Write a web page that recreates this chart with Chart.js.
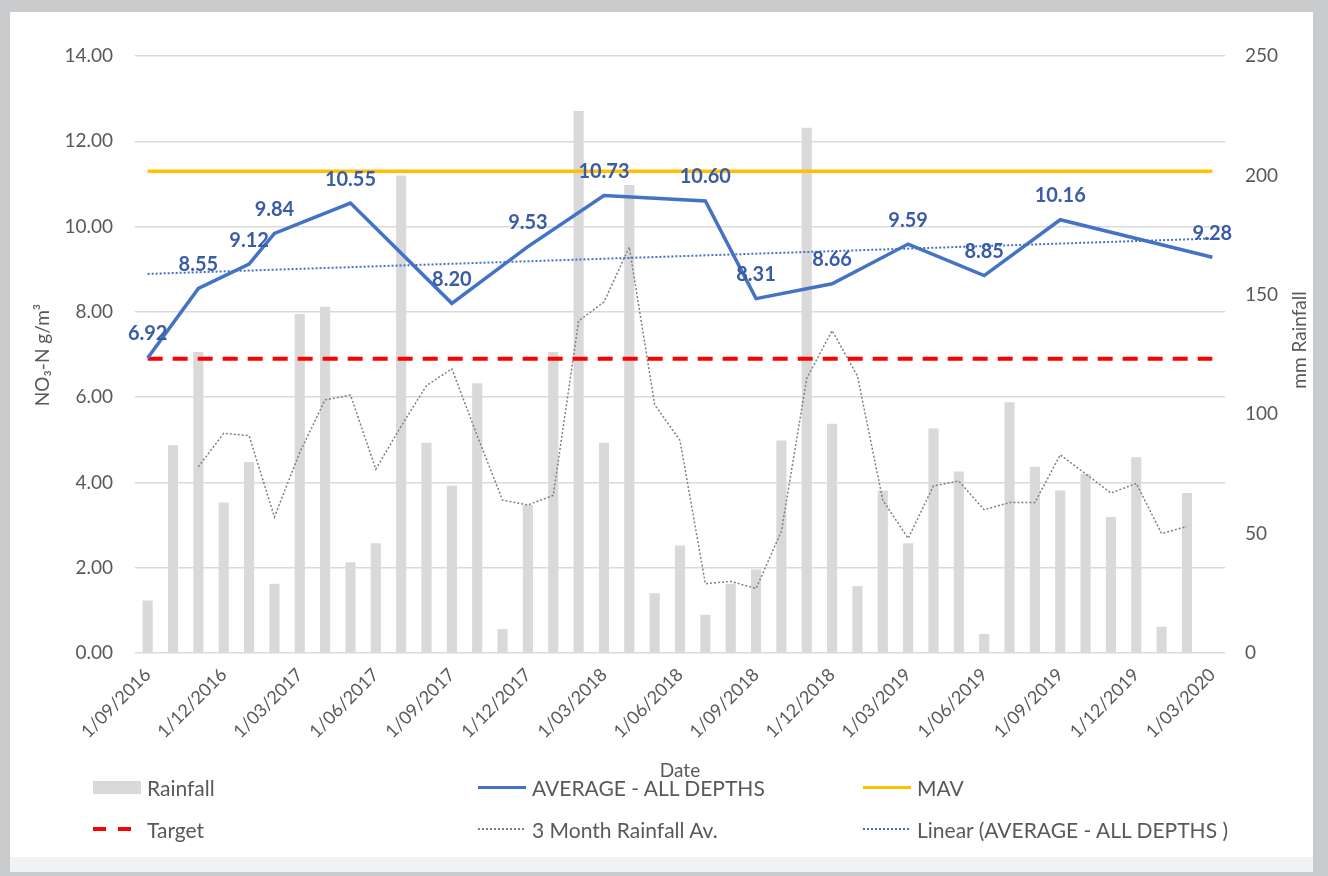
<!DOCTYPE html>
<html>
<head>
<meta charset="utf-8">
<script src="https://cdn.jsdelivr.net/npm/chart.js@4.4.0/dist/chart.umd.min.js"></script>
<style>
  body { margin: 0; background: #c9cacc; font-family: Lato, "Open Sans", sans-serif; }
  #frame { position: absolute; left: 10px; top: 12px; width: 1303px; height: 860px; background: #f1f2f3; }
  #card { position: absolute; left: 0; top: 0; width: 1303px; height: 845px; background: #fff; }
  #chart { position: absolute; left: 0; top: 0; }
  #legend { position: absolute; left: 83px; top: 754px; display: grid;
            grid-template-columns: 385px 385px 420px; grid-auto-rows: 42px; }
  .item { display: flex; align-items: center; color: #595959; font-size: 21px; white-space: nowrap; }
  .sw { width: 48px; height: 14px; margin-right: 6px; display: flex; align-items: center; }
  .sw span { display: block; width: 100%; }
</style>
</head>
<body>
<div id="frame">
  <div id="card">
    <canvas id="chart" width="1303" height="790"></canvas>
    <div id="legend"></div>
  </div>
</div>
<script>
// monthly categories, Sep 2016 .. Mar 2020
const months = ['1/09/2016','1/10/2016','1/11/2016','1/12/2016','1/01/2017','1/02/2017','1/03/2017','1/04/2017',
  '1/05/2017','1/06/2017','1/07/2017','1/08/2017','1/09/2017','1/10/2017','1/11/2017','1/12/2017',
  '1/01/2018','1/02/2018','1/03/2018','1/04/2018','1/05/2018','1/06/2018','1/07/2018','1/08/2018',
  '1/09/2018','1/10/2018','1/11/2018','1/12/2018','1/01/2019','1/02/2019','1/03/2019','1/04/2019',
  '1/05/2019','1/06/2019','1/07/2019','1/08/2019','1/09/2019','1/10/2019','1/11/2019','1/12/2019',
  '1/01/2020','1/02/2020','1/03/2020'];

// mm rainfall per month
const rainfall = [22, 87, 126, 63, 80, 29, 142, 145, 38, 46, 200, 88, 70, 113, 10, 62, 126, 227, 88, 196,
  25, 45, 16, 29, 35, 89, 220, 96, 28, 68, 46, 94, 76, 8, 105, 78, 68, 75, 57, 82, 11, 67, null];

const rain3m = [null, null, 78, 92, 91, 57, 84, 106, 108, 77, 95, 112, 119, 91, 64, 62, 66, 139, 147, 170,
  104, 89, 29, 30, 27, 51, 115, 135, 116, 64, 48, 70, 72, 60, 63, 63, 83, 75, 67, 71, 50, 53, null];

// NO3-N sampling dates and averages
const avgDates = ['1/09/2016','1/11/2016','1/01/2017','1/02/2017','1/05/2017','1/09/2017','1/12/2017',
  '1/03/2018','1/07/2018','1/09/2018','1/12/2018','1/03/2019','1/06/2019','1/09/2019','1/03/2020'];
const avgValues = [6.92, 8.55, 9.12, 9.84, 10.55, 8.20, 9.53, 10.73, 10.60, 8.31, 8.66, 9.59, 8.85, 10.16, 9.28];

const mav = 11.3;
const target = 6.9;
const trendStart = 8.89;
const trendEnd = 9.72;

const leftTicks = [0, 2, 4, 6, 8, 10, 12, 14];
const rightTicks = [0, 50, 100, 150, 200, 250];

const first = months[0], last = months[months.length - 1];
const grey = '#595959';
const fontFam = 'Lato, "Open Sans", sans-serif';

const avgLabels = {
    id: 'avgLabels',
    afterDatasetsDraw(chart) {
        const ctx = chart.ctx;
        const meta = chart.getDatasetMeta(1);
        ctx.save();
        ctx.font = 'bold 20px ' + fontFam;
        ctx.fillStyle = '#3a5ca6';
        ctx.textAlign = 'center';
        ctx.textBaseline = 'middle';
        meta.data.forEach((pt, i) => {
            ctx.fillText(avgValues[i].toFixed(2), pt.x, pt.y - 24);
        });
        ctx.restore();
    }
};

function drawTitle(ctx, text, x, y, rot) {
    ctx.save();
    ctx.font = '19px ' + fontFam;
    ctx.fillStyle = grey;
    ctx.textAlign = 'center';
    ctx.textBaseline = 'middle';
    ctx.translate(x, y);
    if (rot) ctx.rotate(rot);
    ctx.fillText(text, 0, 0);
    ctx.restore();
}

const axisTitles = {
    id: 'axisTitles',
    afterDraw(chart) {
        const ctx = chart.ctx, a = chart.chartArea;
        drawTitle(ctx, 'NO₃-N g/m³', 33, 343, -Math.PI / 2);
        drawTitle(ctx, 'mm Rainfall', 1290, 328, -Math.PI / 2);
        drawTitle(ctx, 'Date', (a.left + a.right) / 2, 759, 0);
    }
};

const chart = new Chart(document.getElementById('chart'), {
    type: 'bar',
    data: {
        labels: months,
        datasets: [{
            label: 'Rainfall', type: 'bar', data: rainfall, yAxisID: 'y2',
            backgroundColor: '#d9d9d9', categoryPercentage: 1, barPercentage: 0.4, order: 10,
            sw: 'box'
        }, {
            label: 'AVERAGE - ALL DEPTHS', type: 'line',
            data: avgDates.map((d, i) => ({ x: d, y: avgValues[i] })), yAxisID: 'y',
            borderColor: '#4472c4', borderWidth: 3.5, pointRadius: 0, tension: 0, order: 0,
            sw: 'line'
        }, {
            label: 'MAV', type: 'line', data: [{ x: first, y: mav }, { x: last, y: mav }], yAxisID: 'y',
            borderColor: '#ffc000', borderWidth: 3.5, pointRadius: 0, order: 2,
            sw: 'line'
        }, {
            label: 'Target', type: 'line', data: [{ x: first, y: target }, { x: last, y: target }], yAxisID: 'y',
            borderColor: '#ff0000', borderWidth: 4, borderDash: [15, 10], pointRadius: 0, order: 3,
            sw: 'dash'
        }, {
            label: '3 Month Rainfall Av.', type: 'line', data: rain3m, yAxisID: 'y2',
            borderColor: '#7f7f7f', borderWidth: 1.5, borderDash: [2, 2], pointRadius: 0, order: 5,
            sw: 'dot'
        }, {
            label: 'Linear (AVERAGE - ALL DEPTHS )', type: 'line',
            data: [{ x: first, y: trendStart }, { x: last, y: trendEnd }], yAxisID: 'y',
            borderColor: '#4472c4', borderWidth: 2, borderDash: [2, 2], pointRadius: 0, order: 1,
            sw: 'dot'
        }]
    },
    options: {
        responsive: false,
        animation: false,
        devicePixelRatio: 1,
        layout: { padding: { top: 44, left: 0, right: 0, bottom: 0 } },
        plugins: { legend: { display: false }, tooltip: { enabled: false } },
        scales: {
            x: {
                offset: true,
                grid: { display: false, drawTicks: false },
                border: { display: false },
                ticks: {
                    autoSkip: false, minRotation: 45, maxRotation: 45, padding: 11,
                    color: grey, font: { family: fontFam, size: 18 },
                    callback: function(v, i) { return i % 3 === 0 ? this.getLabelForValue(v) : ''; }
                },
                afterFit: s => { s.height = 149; }
            },
            y: {
                position: 'left', min: 0, max: 14,
                grid: { color: '#dadada', lineWidth: 1.5, drawTicks: false },
                border: { display: false },
                afterBuildTicks: s => { s.ticks = leftTicks.map(v => ({ value: v })); },
                ticks: { padding: 22, color: grey, font: { family: fontFam, size: 19 }, callback: v => v.toFixed(2) },
                afterFit: s => { s.width = 125; }
            },
            y2: {
                position: 'right', min: 0, max: 250,
                grid: { display: false, drawTicks: false },
                border: { display: false },
                afterBuildTicks: s => { s.ticks = rightTicks.map(v => ({ value: v })); },
                ticks: { padding: 20, color: grey, font: { family: fontFam, size: 19 } },
                afterFit: s => { s.width = 88; }
            }
        }
    },
    plugins: [avgLabels, axisTitles]
});

// legend laid out as 3 columns like the Excel original
function swatchHtml(ds) {
    let st = '';
    if (ds.sw === 'box') st = `height:13px;background:${ds.backgroundColor}`;
    else if (ds.sw === 'line') st = `height:3px;background:${ds.borderColor}`;
    else if (ds.sw === 'dash') st = `height:4px;background:repeating-linear-gradient(to right, ${ds.borderColor} 0 13px, transparent 13px 25px)`;
    else st = `height:2px;background:repeating-linear-gradient(to right, ${ds.borderColor} 0 2px, transparent 2px 4px)`;
    return `<div class="sw"><span style="${st}"></span></div>`;
}
let html = '';
chart.data.datasets.forEach(ds => {
    html += `<div class="item">${swatchHtml(ds)}${ds.label}</div>`;
});
document.getElementById('legend').innerHTML = html;
</script>
</body>
</html>
